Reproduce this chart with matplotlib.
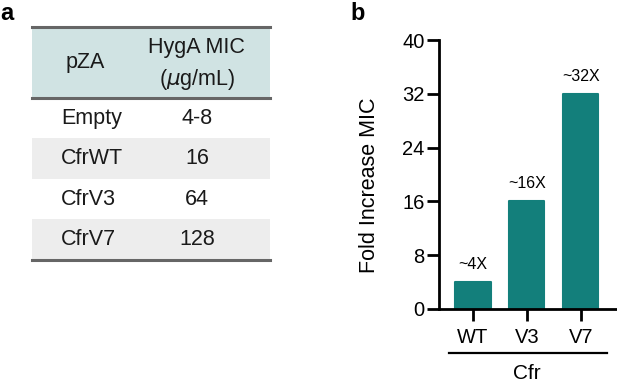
import numpy as np
import matplotlib.pyplot as plt
import matplotlib.transforms as mtransforms

plt.rcParams['font.family'] = ['Liberation Sans', 'DejaVu Sans']

# table data (panel a)
plasmids = ['Empty', 'CfrWT', 'CfrV3', 'CfrV7']
mic_values = ['4-8', '16', '64', '128']

# bar data (panel b)
variants = ['WT', 'V3', 'V7']
fold_increase = [4, 16, 32]
fold_labels = ['~4X', '~16X', '~32X']

teal = '#137F7B'
header_bg = '#D0E3E3'
stripe = '#EDEDED'
rule = '#666666'

fig = plt.figure(figsize=(6.17, 3.84), dpi=100)

# ---- panel a: table ----
W, H = 617.0, 384.0
tab = fig.add_axes([32 / W, 1 - 260 / H, 238 / W, 233 / H])
header_h = 1.75
n = len(plasmids)
tab.set_xlim(0, 1)
tab.set_ylim(0, n + header_h)
tab.axis('off')

tab.axhspan(n, n + header_h, color=header_bg, lw=0)
for i, (p, m) in enumerate(zip(plasmids, mic_values)):
    y = n - i - 0.5
    if i % 2 == 1:
        tab.axhspan(n - i - 1, n - i, color=stripe, lw=0)
    tab.text(0.122, y, p, ha='left', va='center', fontsize=15.5, color='#1a1a1a')
    tab.text(0.693, y, m, ha='center', va='center', fontsize=15.5, color='#1a1a1a')

for yy in [0, n, n + header_h]:
    tab.axhline(yy, color=rule, lw=2.2, clip_on=False)

tab.text(0.223, n + header_h / 2, 'pZA', ha='center', va='center', fontsize=15.5, color='#1a1a1a')
tab.text(0.693, n + header_h * 0.71, 'HygA MIC', ha='center', va='center', fontsize=15.5, color='#1a1a1a')
tab.text(0.693, n + header_h * 0.26, r'($\mu$g/mL)', ha='center', va='center', fontsize=15.5, color='#1a1a1a')

fig.text(0.0, 1 - 14 / H, 'a', fontsize=17, fontweight='bold', va='center', ha='left')
fig.text(358 / W, 1 - 13 / H, 'b', fontsize=17, fontweight='bold', va='center', ha='center')

# ---- panel b: bar chart ----
ax = fig.add_axes([439 / W, 1 - 309 / H, 178 / W, 269 / H])
x = np.arange(len(variants))
ax.bar(x, fold_increase, width=0.65, color=teal, edgecolor=teal, lw=1.5, joinstyle='round')
for xi, v, lab in zip(x, fold_increase, fold_labels):
    ax.text(xi, v + 1.5, lab, ha='center', va='bottom', fontsize=11.5)

ax.set_xlim(-0.63, 2.67)
ax.set_ylim(0, 40)
ax.set_yticks([0, 8, 16, 24, 32, 40])
ax.set_xticks(x)
ax.set_xticklabels(variants)
ax.spines['top'].set_visible(False)
ax.spines['right'].set_visible(False)
ax.spines['left'].set_linewidth(2)
ax.spines['bottom'].set_linewidth(2)
ax.tick_params(axis='both', width=2, length=8.5, labelsize=14.5, pad=2)
ax.tick_params(axis='x', pad=5)
ax.set_ylabel('Fold Increase MIC', fontsize=15.5)
ax.yaxis.set_label_coords(-0.33, 0.46)

trans = mtransforms.blended_transform_factory(ax.transData, ax.transAxes)
ax.plot([-0.44, 2.48], [-0.163, -0.163], color='black', lw=1.6, transform=trans, clip_on=False)
ax.text(1, -0.24, 'Cfr', ha='center', va='center', fontsize=15, transform=trans)

fig.savefig('out.png', dpi=100)
